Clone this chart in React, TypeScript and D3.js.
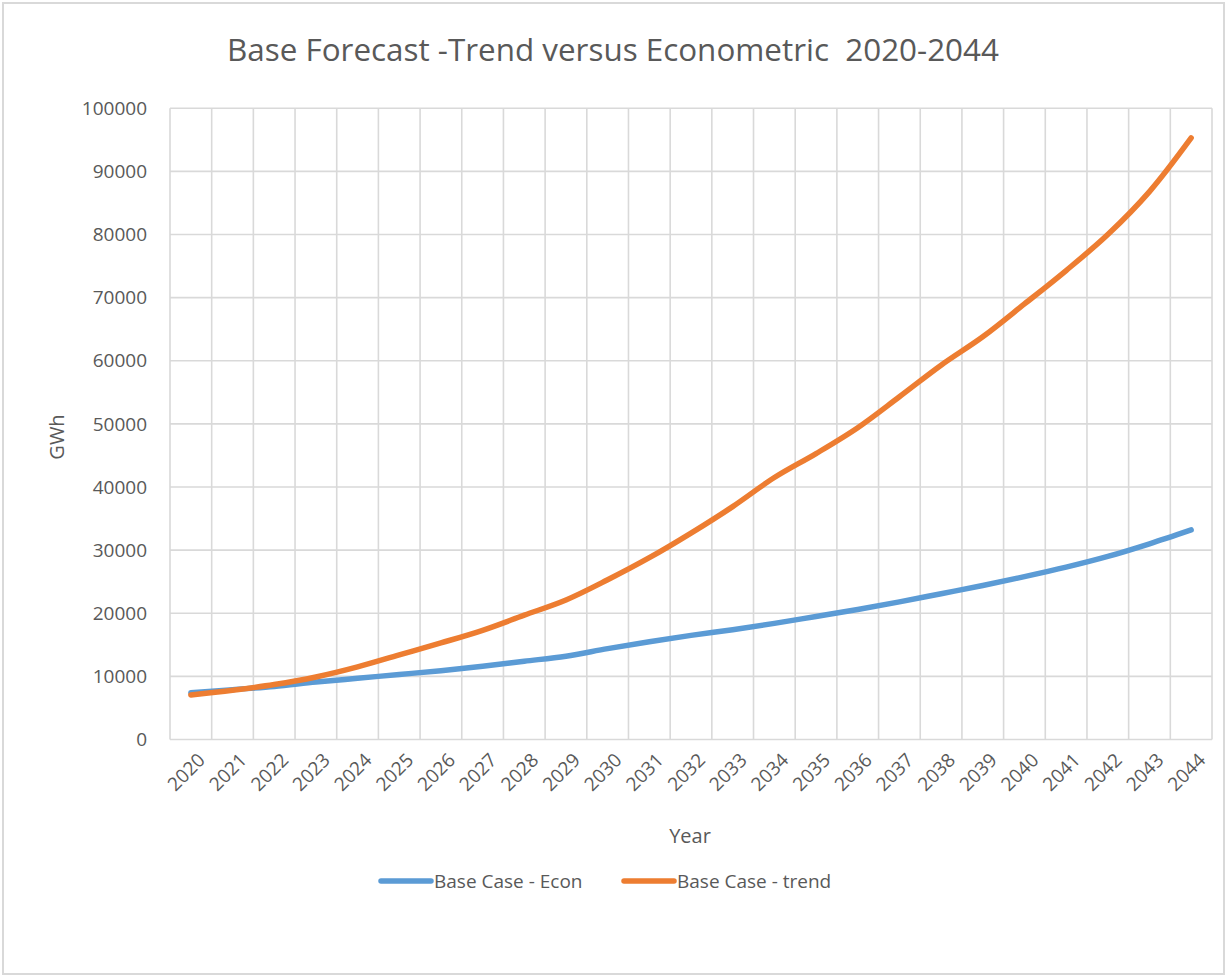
import React from "react";
import * as d3 from "d3";

const years = [
  "2020","2021","2022","2023","2024","2025","2026","2027","2028","2029",
  "2030","2031","2032","2033","2034","2035","2036","2037","2038","2039",
  "2040","2041","2042","2043","2044",
];
const econValues = [
  7400, 7900, 8400, 9100, 9700, 10300, 10900, 11600, 12400, 13200,
  14400, 15500, 16500, 17400, 18400, 19500, 20600, 21800, 23100, 24400,
  25800, 27300, 29000, 31000, 33200,
];
const trendValues = [
  7050, 7800, 8700, 9900, 11500, 13400, 15300, 17300, 19700, 22100,
  25300, 28800, 32700, 36900, 41500, 45300, 49400, 54300, 59300, 63800,
  69000, 74300, 80000, 86800, 95300,
];
const yTicks = [0, 10000, 20000, 30000, 40000, 50000, 60000, 70000, 80000, 90000, 100000];
const seriesNames = ["Base Case - Econ", "Base Case - trend"];
const seriesColors = ["#5b9bd5", "#ed7d31"];

const W = 1227;
const H = 977;
const left = 170;
const right = 1212;
const top = 108.3;
const bottom = 739.5;
const FONT = "'Open Sans', 'Noto Sans', sans-serif";
const TXT = "#595959";
const GRID = "#d9d9d9";

export default function App() {
  const x = d3.scaleBand<string>().domain(years).range([left, right]).paddingInner(0).paddingOuter(0);
  const y = d3.scaleLinear().domain([0, 100000]).range([bottom, top]);
  const line = d3
    .line<number>()
    .x((_, i) => (x(years[i]) as number) + x.bandwidth() / 2)
    .y((d) => y(d))
    .curve(d3.curveCatmullRom.alpha(0.5));

  const series = [econValues, trendValues];
  const boundaries = years.map((yr) => x(yr) as number).concat([right]);

  return (
    <svg
      width={W}
      height={H}
      style={{ position: "absolute", left: 0, top: 0, display: "block", background: "#fff" }}
    >
      <rect x={3} y={3} width={W - 6} height={H - 6} fill="#fff" stroke={GRID} strokeWidth={2} />
      <text
        x={613}
        y={61}
        textAnchor="middle"
        fontFamily={FONT}
        fontSize={31.4}
        fill={TXT}
        style={{ whiteSpace: "pre" }}
      >
        {"Base Forecast -Trend versus Econometric  2020-2044"}
      </text>
      {/* horizontal grid */}
      {yTicks.map((t) => (
        <line key={"h" + t} x1={left} x2={right} y1={y(t)} y2={y(t)} stroke={GRID} strokeWidth={1.6} />
      ))}
      {/* vertical grid */}
      {boundaries.map((b, i) => (
        <line key={"v" + i} x1={b} x2={b} y1={top} y2={bottom} stroke={GRID} strokeWidth={1.6} />
      ))}
      {/* y tick labels */}
      {yTicks.map((t) => (
        <text
          key={"yl" + t}
          x={147}
          y={y(t)}
          dy="0.35em"
          textAnchor="end"
          fontFamily={FONT}
          fontSize={19}
          fill={TXT}
        >
          {t}
        </text>
      ))}
      {/* x tick labels */}
      {years.map((yr) => {
        const cx = (x(yr) as number) + x.bandwidth() / 2 + 6;
        const cy = 752;
        return (
          <text
            key={"xl" + yr}
            transform={`translate(${cx},${cy}) rotate(-45)`}
            textAnchor="end"
            dy="0.7em"
            fontFamily={FONT}
            fontSize={19}
            fill={TXT}
          >
            {yr}
          </text>
        );
      })}
      {/* axis titles */}
      <text
        transform={`translate(64,437) rotate(-90)`}
        textAnchor="middle"
        fontFamily={FONT}
        fontSize={20}
        fill={TXT}
      >
        GWh
      </text>
      <text x={690} y={843} textAnchor="middle" fontFamily={FONT} fontSize={20} fill={TXT}>
        Year
      </text>
      {/* lines */}
      {series.map((s, i) => (
        <path
          key={"s" + i}
          d={line(s) as string}
          fill="none"
          stroke={seriesColors[i]}
          strokeWidth={5.5}
          strokeLinecap="round"
          strokeLinejoin="round"
        />
      ))}
      {/* legend */}
      {seriesNames.map((n, i) => {
        const lx = i === 0 ? 381 : 624;
        return (
          <g key={"lg" + i}>
            <line
              x1={lx}
              x2={lx + 50}
              y1={881}
              y2={881}
              stroke={seriesColors[i]}
              strokeWidth={5.5}
              strokeLinecap="round"
            />
            <text x={lx + 53} y={881} dy="0.35em" fontFamily={FONT} fontSize={19} fill={TXT}>
              {n}
            </text>
          </g>
        );
      })}
    </svg>
  );
}
